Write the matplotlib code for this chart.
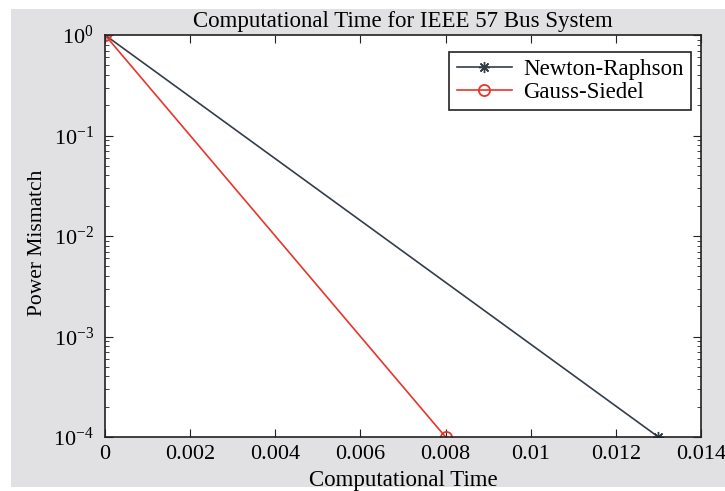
import matplotlib
matplotlib.use('Agg')
import matplotlib.pyplot as plt
from matplotlib.patches import Rectangle
from matplotlib.ticker import LogLocator, FixedLocator

plt.rcParams['font.family'] = ['Liberation Serif', 'DejaVu Serif']
plt.rcParams['mathtext.fontset'] = 'stix'

# data
nr_time = [0, 0.013]
nr_mismatch = [1, 1e-4]
gs_time = [0, 0.008]
gs_mismatch = [1, 1e-4]
x_ticks = [0, 0.002, 0.004, 0.006, 0.008, 0.01, 0.012, 0.014]
x_labels = ['0', '0.002', '0.004', '0.006', '0.008', '0.01', '0.012', '0.014']

fig = plt.figure(figsize=(7.25, 4.91), dpi=100)
fig.patch.set_facecolor('white')
# gray matlab-like background
fig.patches.append(Rectangle((11 / 725, 4 / 491), 714 / 725, 478 / 491,
                             transform=fig.transFigure, facecolor='#e1e1e3',
                             edgecolor='none', zorder=-10))

ax = fig.add_axes([105 / 725, 1 - 437 / 491, 596 / 725, 402 / 491])
ax.set_facecolor('white')

ax.semilogy(nr_time, nr_mismatch, '-', marker=(8, 2, 0), color='#333e48', lw=1.2,
            markersize=8, label='Newton-Raphson')
ax.semilogy(gs_time, gs_mismatch, '-o', color='#e8352c', lw=1.2,
            markersize=8, markerfacecolor='none', markeredgewidth=1.3,
            label='Gauss-Siedel')

ax.set_xlim(0, 0.014)
ax.set_ylim(1e-4, 1)
ax.xaxis.set_major_locator(FixedLocator(x_ticks))
ax.set_xticklabels(x_labels)
ax.yaxis.set_major_locator(LogLocator(base=10, numticks=10))
ax.yaxis.set_minor_locator(LogLocator(base=10, subs=range(2, 10), numticks=10))

ax.tick_params(which='both', direction='in', top=True, right=True,
               labelsize=16, color='#222222')
ax.tick_params(which='major', length=6)
ax.tick_params(which='minor', length=3)
ax.tick_params(axis='x', pad=6)
ax.tick_params(axis='y', pad=8)
for s in ax.spines.values():
    s.set_color('#222222')
    s.set_linewidth(1.2)

fig.text(403 / 725, 1 - 21 / 491, 'Computational Time for IEEE 57 Bus System',
         fontsize=16.5, ha='center', va='center')
ax.set_xlabel('Computational Time', fontsize=16.5, labelpad=4)
ax.set_ylabel('Power Mismatch', fontsize=15.5, va='center')
ax.yaxis.set_label_coords(-0.114, 0.483)

leg = ax.legend(loc='upper right', bbox_to_anchor=(691 / 725, 1 - 52 / 491),
                bbox_transform=fig.transFigure, fontsize=16.5, fancybox=False,
                edgecolor='#222222', framealpha=1, borderpad=0.32,
                labelspacing=0.05, handlelength=2.4, handletextpad=0.5,
                borderaxespad=0)
leg.get_frame().set_linewidth(1.2)

plt.savefig('out.png', dpi=100)
